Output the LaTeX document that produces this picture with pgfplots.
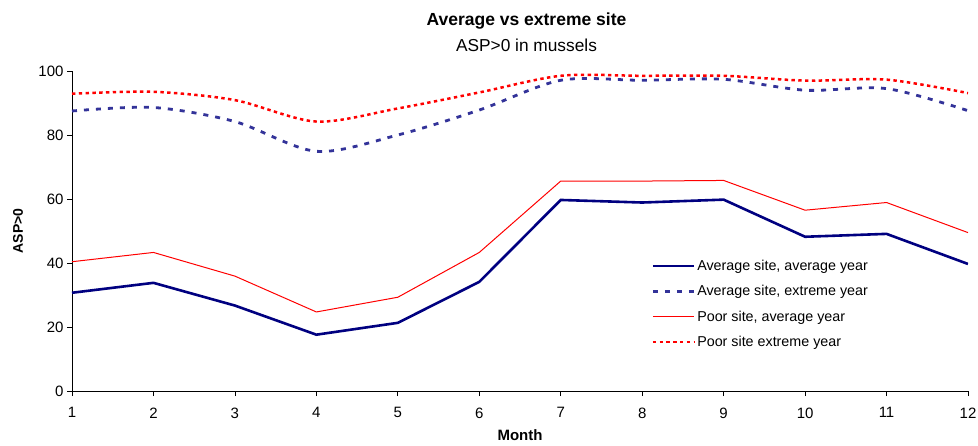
\documentclass[border=0pt]{standalone}
\usepackage{fontspec}
\setmainfont{Liberation Sans}
\usepackage{pgfplots}
\pgfplotsset{compat=1.18}
\definecolor{navyline}{HTML}{000080}
\definecolor{bluedash}{HTML}{333399}
\definecolor{redline}{HTML}{FF0000}
\begin{document}
\begin{tikzpicture}
\begin{axis}[
  at={(0pt,0pt)}, anchor=origin,
  scale only axis,
  width=896pt, height=320pt,
  xmin=1, xmax=12, ymin=0, ymax=100,
  xtick={1,...,12}, ytick={0,20,...,100},
  axis x line=bottom, axis y line=left,
  axis line style={-, black, line width=0.8pt},
  tick align=outside,
  major tick length=5pt,
  tick style={black, line width=0.8pt},
  /pgf/number format/assume math mode=true,
  ticklabel style={font=\fontsize{15}{18}\selectfont},
  xticklabel style={yshift=-8pt},
  xlabel={Month},
  ylabel={ASP>0},
  xlabel style={font=\bfseries\fontsize{15}{18}\selectfont, at={(axis description cs:0.5,0)}, anchor=base, yshift=-49pt},
  ylabel style={font=\bfseries\fontsize{14}{17}\selectfont, at={(axis description cs:0,0.5)}, anchor=center, yshift=54pt},
  legend cell align=left,
  legend image code/.code={\draw[#1] (0pt,0pt) -- (41pt,0pt);},
  legend style={at={(0.6465,0.4156)}, anchor=north west, draw=none, fill=none,
    font=\fontsize{14.3}{17}\selectfont, row sep=9.5pt, inner sep=0pt},
]
\addplot[navyline, line width=2.6pt] coordinates {
 (1,30.7) (2,33.8) (3,26.7) (4,17.6) (5,21.3) (6,34.1)
 (7,59.7) (8,58.9) (9,59.8) (10,48.2) (11,49.1) (12,39.7)};
\addlegendentry{Average site, average year}
\addplot[bluedash, line width=2.8pt, dash pattern=on 5pt off 7pt, smooth, tension=0.5] coordinates {
 (1,87.5) (2,88.6) (3,84.2) (4,74.9) (5,80.0) (6,87.8)
 (7,97.1) (8,97.1) (9,97.4) (10,94.0) (11,94.5) (12,87.6)};
\addlegendentry{Average site, extreme year}
\addplot[redline, line width=1pt] coordinates {
 (1,40.4) (2,43.3) (3,35.9) (4,24.7) (5,29.3) (6,43.3)
 (7,65.6) (8,65.6) (9,65.8) (10,56.5) (11,58.9) (12,49.5)};
\addlegendentry{Poor site, average year}
\addplot[redline, line width=2.5pt, dash pattern=on 3.4pt off 3.4pt, smooth, tension=0.5] coordinates {
 (1,92.9) (2,93.5) (3,90.9) (4,84.2) (5,88.3) (6,93.3)
 (7,98.5) (8,98.5) (9,98.5) (10,97.0) (11,97.3) (12,93.1)};
\addlegendentry{Poor site extreme year}
\end{axis}
\node[font=\bfseries\fontsize{17.5}{20}\selectfont] at (454.5pt,370pt) {Average vs extreme site};
\node[font=\fontsize{17.3}{20}\selectfont] at (454.5pt,346pt) {ASP>0 in mussels};
\pgfresetboundingbox
\useasboundingbox (-72pt,-54pt) rectangle (906pt,391pt);
\end{tikzpicture}
\end{document}
